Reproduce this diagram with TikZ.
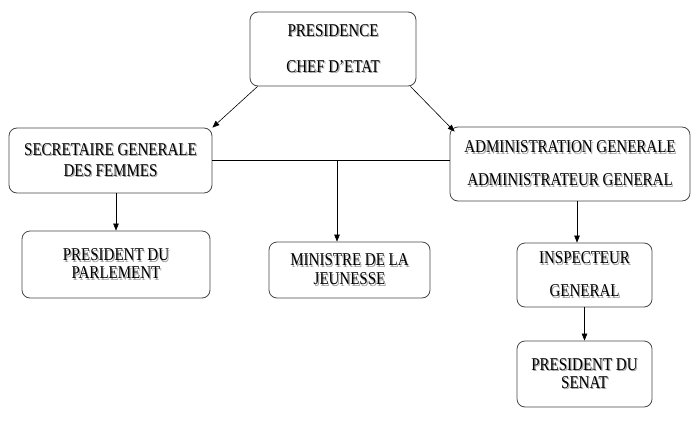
\documentclass[tikz,border=0pt]{standalone}
\usepackage{graphicx}
\usepackage{fontspec}
\setmainfont{Liberation Serif}
\definecolor{BoxColor}{RGB}{70,70,70}
\definecolor{ShadowColor}{RGB}{160,160,160}
\usetikzlibrary{positioning, arrows.meta, calc}
\newcommand{\shad}[1]{\scalebox{1}[1.2]{\makebox[0pt][l]{\kern1.2pt\raisebox{-1.2pt}{\textcolor{ShadowColor}{#1}}}#1}}
\tikzstyle{arrow} = [line width=0.6pt, black, -{Triangle[length=7pt,width=5.5pt]}]
\tikzset{
  orgbox/.style={draw=BoxColor, line width=0.8pt, rounded corners=8pt, align=center,
    inner sep=0pt, font=\fontsize{15}{18}\selectfont},
  bus/.style={line width=0.6pt, black}
}
\begin{document}
\begin{tikzpicture}[x=1pt, y=-1pt]
                \useasboundingbox (0,0) rectangle (700,420);

                % Top level
                \node[orgbox, minimum width=166pt, minimum height=74pt] (pres) at (333,49)
                    {\shad{PRESIDENCE}\\[18pt]\shad{CHEF D'ETAT}};

                % Second level
                \node[orgbox, minimum width=203pt, minimum height=65pt] (sec) at (110.5,160.5)
                    {\shad{SECRETAIRE GENERALE}\\[3pt]\shad{DES FEMMES}};
                \node[orgbox, minimum width=240pt, minimum height=74pt] (admin) at (570,164)
                    {\shad{ADMINISTRATION GENERALE}\\[15pt]\shad{ADMINISTRATEUR GENERAL}};

                % Third level
                \node[orgbox, minimum width=188pt, minimum height=67pt] (parl) at (116,264.5)
                    {\shad{PRESIDENT DU}\\[0pt]\shad{PARLEMENT}};
                \node[orgbox, minimum width=161pt, minimum height=56pt] (min) at (349.5,270)
                    {\shad{MINISTRE DE LA}\\[1pt]\shad{JEUNESSE}};
                \node[orgbox, minimum width=135pt, minimum height=64pt] (insp) at (584.5,275)
                    {\shad{INSPECTEUR}\\[15pt]\shad{GENERAL}};

                % Fourth level
                \node[orgbox, minimum width=135pt, minimum height=66pt] (senat) at (584.5,374)
                    {\shad{PRESIDENT DU}\\[0pt]\shad{SENAT}};

                % Links from the top
                \draw[arrow] ([xshift=8pt]pres.south west) -- (sec.north east);
                \draw[arrow] ([xshift=-6pt]pres.south east) -- ([xshift=5pt,yshift=-5pt]admin.north west);

                % Horizontal link and branch
                \coordinate (busmid) at (337,160);
                \draw[bus] (sec.east |- busmid) -- (admin.west |- busmid);
                \draw[arrow] (busmid) -- (busmid |- min.north);

                % Vertical links
                \draw[arrow] (parl.north |- sec.south) -- (parl.north);
                \draw[arrow] ([xshift=7pt]admin.south) -- ([xshift=7pt]admin.south |- insp.north);
                \draw[arrow] (insp.south) -- (senat.north);
            \end{tikzpicture}
\end{document}
